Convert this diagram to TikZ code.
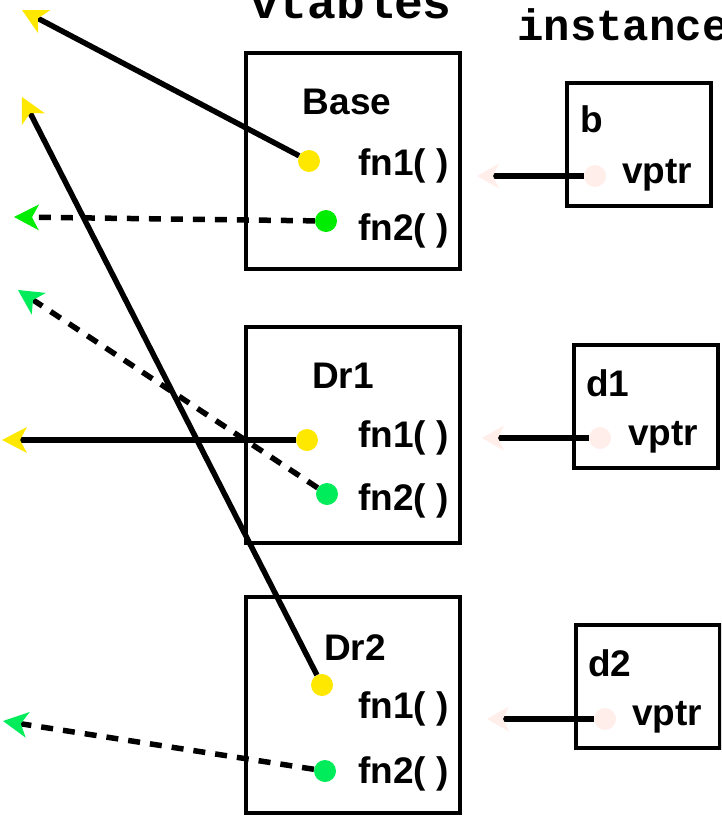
\documentclass[tikz,border=0pt]{standalone}
\usepackage{fontspec}
\setmainfont{Liberation Sans}
\setmonofont{Liberation Mono}
\usetikzlibrary{arrows.meta}
\definecolor{ptryellow}{RGB}{255,232,0}
\definecolor{ptrgreen}{RGB}{0,236,0}
\definecolor{ptrmint}{RGB}{0,236,90}
\definecolor{ptrpink}{RGB}{255,238,234}

\begin{document}
\begin{tikzpicture}
  [x=1pt,y=-1pt,
   tblBox/.style={draw,line width=4pt,minimum width=214pt,minimum height=216pt},
   objBox/.style={draw,line width=4pt,minimum width=144pt,minimum height=123pt},
   lbl/.style={font=\fontsize{37}{37}\selectfont\bfseries,inner sep=0pt},
   ttl/.style={inner sep=0pt},
   dot/.style={circle,inner sep=0pt,minimum size=22pt},
   ptr/.style={line width=5.5pt},
   ptrDash/.style={ptr,dash pattern=on 12pt off 10pt},
   tipY/.style={-{Stealth[length=25pt,width=26pt,inset=7pt,line width=0pt,color=ptryellow]}},
   tipG/.style={-{Stealth[length=25pt,width=26pt,inset=7pt,line width=0pt,color=ptrgreen]}},
   tipM/.style={-{Stealth[length=25pt,width=26pt,inset=7pt,line width=0pt,color=ptrmint]}},
   tipP/.style={-{Stealth[length=22pt,width=25pt,inset=6pt,line width=0pt,color=ptrpink]}},
  ]

 \useasboundingbox (0,0) rectangle (721,817);
 \clip (0,0) rectangle (721,817);

 % headings
 \node[ttl,font=\fontsize{48}{48}\selectfont\ttfamily\bfseries,anchor=base]      (vtTitle) at (351,18) {vtables};
 \node[ttl,font=\fontsize{44}{44}\selectfont\ttfamily\bfseries,anchor=base west] (inTitle) at (517,40) {instance};

 % vtables
 \node[tblBox] (base) at (353,160.5) {};
 \node[tblBox] (dra)  at (353,434.5) {};
 \node[tblBox] (drb)  at (353,705)   {};

 \node[lbl,anchor=base]      (baseName) at (347,114) {Base};
 \node[lbl,anchor=base west] (baseFnA)  at (358,175) {fn1( )};
 \node[lbl,anchor=base west] (baseFnB)  at (358,240) {fn2( )};
 \node[lbl,anchor=base]      (draName)  at (343,388) {Dr1};
 \node[lbl,anchor=base west] (draFnA)   at (358,447) {fn1( )};
 \node[lbl,anchor=base west] (draFnB)   at (358,510) {fn2( )};
 \node[lbl,anchor=base]      (drbName)  at (355,660) {Dr2};
 \node[lbl,anchor=base west] (drbFnA)   at (358,718) {fn1( )};
 \node[lbl,anchor=base west] (drbFnB)   at (358,783) {fn2( )};

 \node[dot,fill=ptryellow] (baseDotA) at (309,161) {};
 \node[dot,fill=ptrgreen]  (baseDotB) at (326,221) {};
 \node[dot,fill=ptryellow] (draDotA)  at (307,440) {};
 \node[dot,fill=ptrmint]   (draDotB)  at (327,494) {};
 \node[dot,fill=ptryellow] (drbDotA)  at (322,685) {};
 \node[dot,fill=ptrmint]   (drbDotB)  at (325,771) {};

 \coordinate (baseTipA) at (22,10);
 \coordinate (baseTipB) at (14,217);
 \coordinate (draTipA)  at (2,440);
 \coordinate (draTipB)  at (18,290);
 \coordinate (drbTipA)  at (22,97);
 \coordinate (drbTipB)  at (3,721);

 \draw[ptr,tipY]     (baseDotA) to (baseTipA);
 \draw[ptrDash,tipG] (baseDotB) to (baseTipB);
 \draw[ptr,tipY]     (draDotA)  to (draTipA);
 \draw[ptrDash,tipM] (draDotB)  to (draTipB);
 \draw[ptr,tipY]     (drbDotA)  to (drbTipA);
 \draw[ptrDash,tipM] (drbDotB)  to (drbTipB);

 % instances
 \node[objBox] (objB)  at (639,144)   {};
 \node[objBox] (objDa) at (645.5,406) {};
 \node[objBox] (objDb) at (648,686.5) {};

 \node[lbl,anchor=base west] (objBName)  at (580,132) {b};
 \node[lbl,anchor=base west] (objBPtr)   at (622,183) {vptr};
 \node[lbl,anchor=base west] (objDaName) at (586,396) {d1};
 \node[lbl,anchor=base west] (objDaPtr)  at (628,445) {vptr};
 \node[lbl,anchor=base west] (objDbName) at (588,676) {d2};
 \node[lbl,anchor=base west] (objDbPtr)  at (632,725) {vptr};

 \node[dot,fill=ptrpink] (objBDot)  at (595,176) {};
 \node[dot,fill=ptrpink] (objDaDot) at (600,438) {};
 \node[dot,fill=ptrpink] (objDbDot) at (605,719) {};

 \coordinate (objBTip)  at (477,176);
 \coordinate (objDaTip) at (482,438);
 \coordinate (objDbTip) at (487,719);

 \draw[ptr,tipP] (objBDot)  to (objBTip);
 \draw[ptr,tipP] (objDaDot) to (objDaTip);
 \draw[ptr,tipP] (objDbDot) to (objDbTip);

\end{tikzpicture}
\end{document}
